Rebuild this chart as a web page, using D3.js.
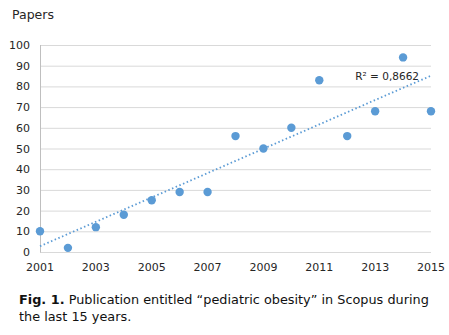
<!DOCTYPE html>
<html><head><meta charset="utf-8">
<script src="https://cdn.jsdelivr.net/npm/d3@7"></script>
<style>
html,body{margin:0;padding:0;background:#fff;}
svg{display:block;font-family:"DejaVu Sans",Verdana,sans-serif;}
</style></head>
<body>
<svg id="c" width="449" height="335"></svg>
<script>
const years = [2001,2002,2003,2004,2005,2006,2007,2008,2009,2010,2011,2012,2013,2014,2015];
const papers = [10,2,12,18,25,29,29,56,50,60,83,56,68,94,68];
const xTicks = [2001,2003,2005,2007,2009,2011,2013,2015];
const yTicks = [0,10,20,30,40,50,60,70,80,90,100];
const r2Label = "R² = 0,8662";

const svg = d3.select("#c");
const x = d3.scaleLinear().domain([2001,2015]).range([40,431]);
const y = d3.scaleLinear().domain([0,100]).range([252,45]);
const blue = "#5B9BD5";

// gridlines
svg.append("g").selectAll("line").data(yTicks).join("line")
  .attr("x1",40).attr("x2",431)
  .attr("y1",d=>y(d)+0.5).attr("y2",d=>y(d)+0.5)
  .attr("stroke","#d9d9d9").attr("stroke-width",1);
// left axis line
svg.append("line").attr("x1",40.5).attr("x2",40.5).attr("y1",y(100)).attr("y2",y(0)+0.5)
  .attr("stroke","#bfbfbf");

// y tick labels
svg.append("g").selectAll("text").data(yTicks).join("text")
  .attr("x",30).attr("y",d=>y(d)+4)
  .attr("text-anchor","end").attr("font-size",11).attr("fill","#262626")
  .text(d=>d);
// x tick labels
svg.append("g").selectAll("text").data(xTicks).join("text")
  .attr("x",d=>x(d)).attr("y",271)
  .attr("text-anchor","middle").attr("font-size",11).attr("fill","#262626")
  .text(d=>d);

// Papers label
svg.append("text").attr("x",12).attr("y",19).attr("font-size",12.5).attr("fill","#262626").text("Papers");

// regression
const mx = d3.mean(years), my = d3.mean(papers);
let sxy=0,sxx=0;
years.forEach((v,i)=>{sxy+=(v-mx)*(papers[i]-my);sxx+=(v-mx)*(v-mx);});
const slope = sxy/sxx, icpt = my - slope*mx;
svg.append("line")
  .attr("x1",x(2001)).attr("y1",y(slope*2001+icpt))
  .attr("x2",x(2015)).attr("y2",y(slope*2015+icpt))
  .attr("stroke",blue).attr("stroke-width",1.8).attr("stroke-dasharray","1.5,2.5");

// points
svg.append("g").selectAll("circle").data(years).join("circle")
  .attr("cx",d=>x(d)).attr("cy",(d,i)=>y(papers[i]))
  .attr("r",4.2).attr("fill",blue);

// R2 label
svg.append("text").attr("x",419).attr("y",80).attr("text-anchor","end")
  .attr("font-size",10.5).attr("fill","#262626").text(r2Label);

// caption
const cap = svg.append("text").attr("font-size",12.85).attr("fill","#111");
const l1 = cap.append("tspan").attr("x",19).attr("y",304);
l1.append("tspan").attr("font-weight","bold").text("Fig. 1.");
l1.append("tspan").text(" Publication entitled “pediatric obesity” in Scopus during");
cap.append("tspan").attr("x",19).attr("y",321).text("the last 15 years.");
</script>
</body></html>
